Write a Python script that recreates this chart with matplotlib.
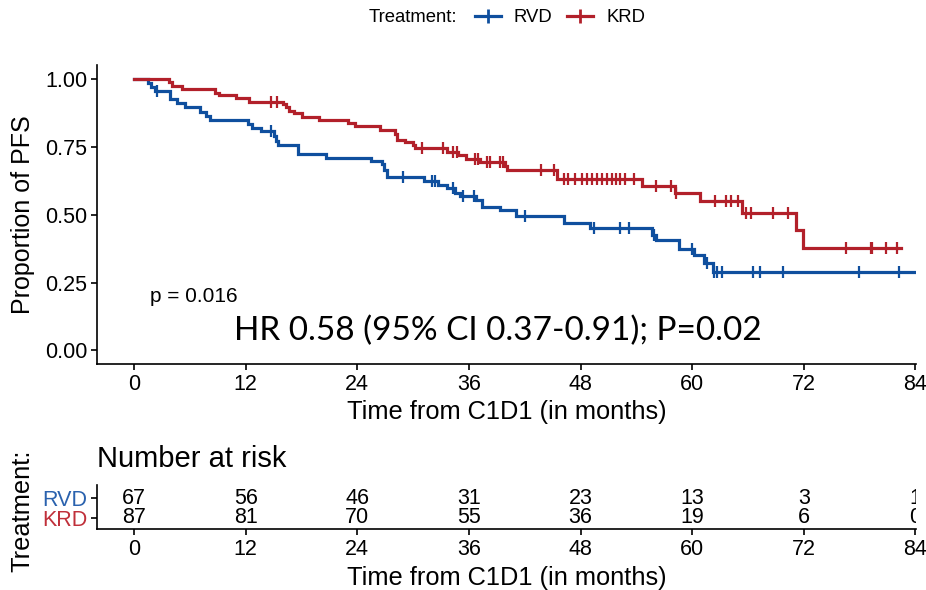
import numpy as np
import matplotlib
matplotlib.use("Agg")
import matplotlib.pyplot as plt
from matplotlib.lines import Line2D

plt.rcParams['font.family'] = ['Liberation Sans', 'DejaVu Sans']

BLUE = '#0F4F9E'
RED = '#B2202A'

# RVD: event times (months) and survival after each step
rvd_t = [1.5, 1.8, 2.2, 3.9, 4.6, 5.5, 7.1, 7.7, 8.2, 12.2, 12.7, 13.6, 15.0, 15.3,
         15.5, 17.6, 20.6, 25.5, 26.6, 26.9, 27.2, 31.2, 32.7, 33.6, 34.5, 35.0,
         36.8, 37.4, 39.3, 41.1, 46.2, 49.0, 55.7, 56.1, 58.6, 60.2, 61.3, 62.2]
rvd_s = [0.985, 0.970, 0.955, 0.925, 0.910, 0.895, 0.877, 0.865, 0.850, 0.835, 0.820,
         0.807, 0.790, 0.772, 0.755, 0.725, 0.710, 0.698, 0.685, 0.665, 0.640, 0.624,
         0.609, 0.597, 0.579, 0.569, 0.555, 0.530, 0.518, 0.494, 0.470, 0.451, 0.427,
         0.406, 0.375, 0.350, 0.321, 0.289]
rvd_cens = [2.5, 14.7, 28.9, 32.0, 32.3, 34.3, 35.4, 36.5, 42.0, 49.4, 52.3, 53.2,
            55.9, 60.0, 61.6, 62.4, 62.7, 63.2, 66.5, 67.3, 69.8, 78.0, 82.3]
rvd_end = 84.0

# KRD
krd_t = [3.7, 4.1, 5.1, 8.7, 9.1, 10.9, 12.3, 16.0, 16.3, 16.7, 17.2, 18.1, 19.9,
         23.0, 23.7, 26.4, 28.0, 28.3, 29.1, 30.0, 30.2, 33.6, 34.8, 35.7, 37.2,
         39.9, 40.1, 45.5, 54.6, 58.2, 60.9, 65.4, 71.2, 71.9]
krd_s = [0.988, 0.975, 0.962, 0.950, 0.940, 0.929, 0.917, 0.907, 0.895, 0.883, 0.874,
         0.861, 0.849, 0.837, 0.825, 0.813, 0.796, 0.777, 0.768, 0.757, 0.746, 0.731,
         0.721, 0.707, 0.695, 0.680, 0.664, 0.630, 0.606, 0.579, 0.549, 0.506, 0.445,
         0.378]
krd_cens = [14.7, 15.4, 30.9, 33.2, 34.3, 34.7, 36.6, 37.0, 37.9, 38.3, 39.3, 39.7,
            43.8, 45.1, 46.2, 46.7, 47.4, 48.2, 48.7, 49.2, 49.8, 50.3, 50.9, 51.4,
            51.8, 52.3, 52.8, 53.7, 56.1, 57.7, 58.3, 62.5, 63.7, 64.2, 64.9, 65.8,
            66.3, 68.7, 70.3, 76.5, 79.2, 79.4, 80.8, 82.0]
krd_end = 82.5

risk_times = [0, 12, 24, 36, 48, 60, 72, 84]
rvd_risk = [67, 56, 46, 31, 23, 13, 3, 1]
krd_risk = [87, 81, 70, 55, 36, 19, 6, 0]

W, H = 926, 590
fig = plt.figure(figsize=(W / 100, H / 100), dpi=100)


def fx(px):
    return px / W


def fy(py):
    return 1 - py / H


ax = fig.add_axes([fx(97), fy(364), fx(916) - fx(97), fy(65) - fy(364)])


def draw_km(t, s, cens, end, color):
    tt = np.concatenate([[0], t, [end]])
    ss = np.concatenate([[1.0], s, [s[-1]]])
    ax.step(tt, ss, where='post', color=color, lw=2.3, solid_joinstyle='miter')
    idx = np.searchsorted(tt, cens, side='right') - 1
    ax.plot(cens, ss[idx], ls='none', marker='|', ms=9, mew=1.6, color=color)


draw_km(rvd_t, rvd_s, rvd_cens, rvd_end, BLUE)
draw_km(krd_t, krd_s, krd_cens, krd_end, RED)

ax.set_xlim(-4.0, 84.08)
ax.set_ylim(-0.05, 1.0515)
ax.set_xticks(risk_times)
ax.set_yticks([0, 0.25, 0.5, 0.75, 1.0])
ax.set_yticklabels(['0.00', '0.25', '0.50', '0.75', '1.00'])
for sp in ['top', 'right']:
    ax.spines[sp].set_visible(False)
for sp in ['left', 'bottom']:
    ax.spines[sp].set_linewidth(1.2)
ax.tick_params(labelsize=15.5, length=4, width=1.2, pad=3, colors='black')
ax.set_ylabel('Proportion of PFS', fontsize=18)
ax.yaxis.set_label_coords((35 - 97) / 819, 0.5)
ax.set_xlabel('Time from C1D1 (in months)', fontsize=18.3)
ax.xaxis.set_label_coords(0.5, (364 - 400) / 299)

ax.text(1.7, 0.2, 'p = 0.016', fontsize=15, va='center', ha='left')
fig.text(fx(498), fy(331), 'HR 0.58 (95% CI 0.37-0.91); P=0.02', fontsize=24,
         family=['Lato', 'DejaVu Sans'], ha='center', va='center')

# legend
fig.text(fx(457), fy(18), 'Treatment:', fontsize=13.3, ha='right', va='center')
handles = [Line2D([], [], color=BLUE, lw=2.3, marker='+', ms=10, mew=2),
           Line2D([], [], color=RED, lw=2.3, marker='+', ms=10, mew=2)]
fig.legend(handles, ['RVD', 'KRD'], loc='center left', bbox_to_anchor=(fx(475), fy(18)),
           ncol=2, frameon=False, fontsize=13.3, handlelength=1.4, handletextpad=0.7,
           columnspacing=0.8, borderpad=0, borderaxespad=0)

# risk table
rax = fig.add_axes([fx(97), fy(529), fx(916) - fx(97), fy(485) - fy(529)])
rax.set_xlim(-4.0, 84.08)
rax.set_ylim(0.418, 2.686)
for t, r1, r2 in zip(risk_times, rvd_risk, krd_risk):
    rax.text(t, 2, str(r1), ha='center', va='center', fontsize=15.5, clip_on=True)
    rax.text(t, 1, str(r2), ha='center', va='center', fontsize=15.5, clip_on=True)
rax.set_xticks(risk_times)
rax.set_yticks([2, 1])
rax.set_yticklabels(['RVD', 'KRD'])
for sp in ['top', 'right']:
    rax.spines[sp].set_visible(False)
for sp in ['left', 'bottom']:
    rax.spines[sp].set_linewidth(1.2)
rax.tick_params(labelsize=15.5, length=4, width=1.2, pad=3, colors='black')
for lab in rax.get_yticklabels():
    lab.set_fontsize(15.5)
rax.get_yticklabels()[0].set_color('#2A62AE')
rax.get_yticklabels()[1].set_color('#C0303A')
rax.set_xlabel('Time from C1D1 (in months)', fontsize=18.3)
rax.xaxis.set_label_coords(0.5, (529 - 566) / 44)
rax.set_ylabel('Treatment:', fontsize=18.3)
rax.yaxis.set_label_coords((34 - 97) / 819, (529 - 511) / 44)
rax.set_title('Number at risk', fontsize=21, loc='left', pad=13)

fig.savefig('out.png', dpi=100)
